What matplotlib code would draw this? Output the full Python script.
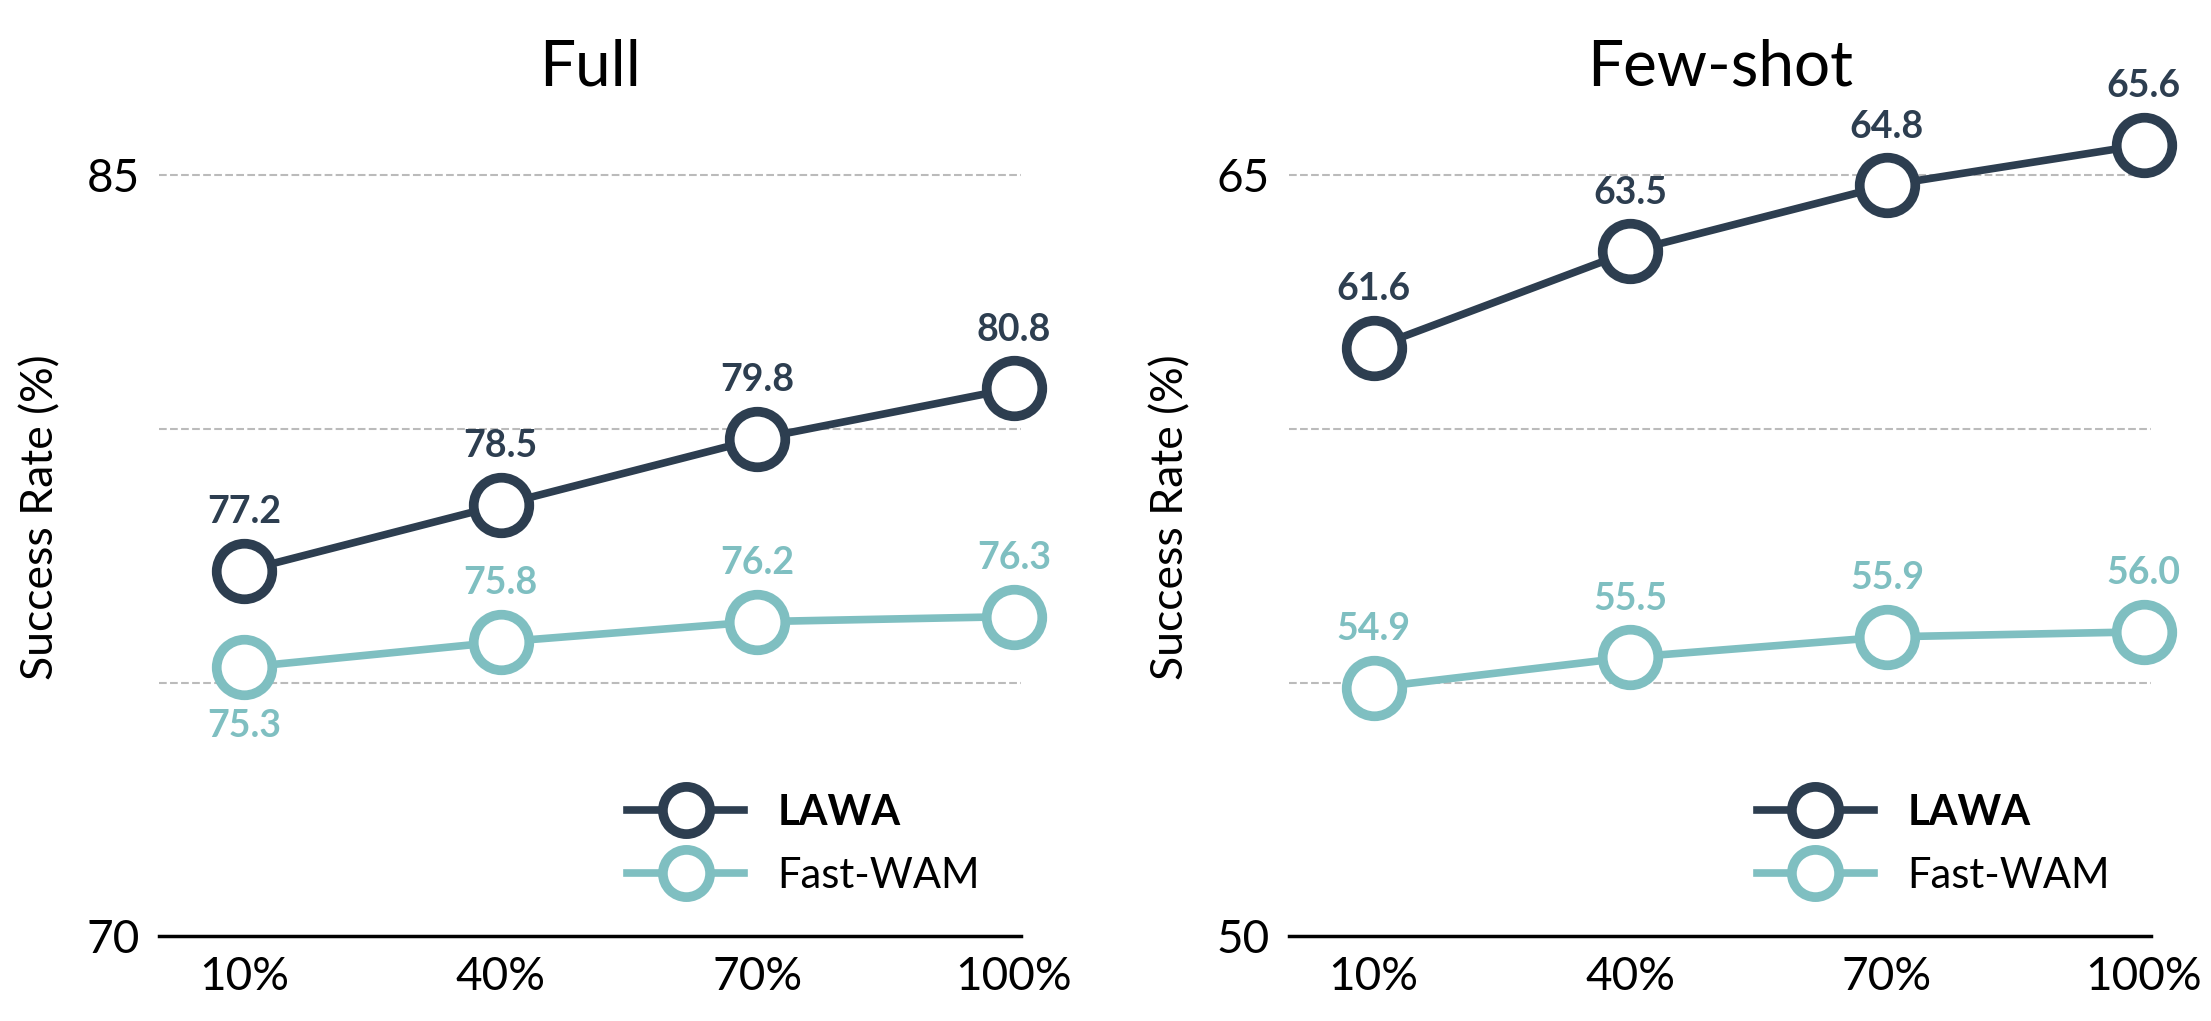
import matplotlib.pyplot as plt

plt.rcParams['font.family'] = ['Lato', 'DejaVu Sans']

x_labels = ['10%', '40%', '70%', '100%']
full_lawa = [77.2, 78.5, 79.8, 80.8]
full_fast = [75.3, 75.8, 76.2, 76.3]
few_lawa = [61.6, 63.5, 64.8, 65.6]
few_fast = [54.9, 55.5, 55.9, 56.0]

dark = '#2d3e50'
teal = '#7fbfc1'

fig = plt.figure(figsize=(22.11, 10.21), dpi=100)
axes = [fig.add_axes([0.072, 0.083, 0.39, 0.82]),
        fig.add_axes([0.583, 0.083, 0.39, 0.82])]

panels = [('Full', full_lawa, full_fast, 70, [75, 80, 85], [-1, 1, 1, 1]),
          ('Few-shot', few_lawa, few_fast, 50, [55, 60, 65], [1, 1, 1, 1])]

for ax, (title, lawa, fast, lo, grid, fdir) in zip(axes, panels):
    xs = range(len(x_labels))
    for g in grid:
        ax.axhline(g, color='#bbbbbb', ls='--', lw=1.5, zorder=0)
    ax.plot(xs, lawa, color=dark, lw=5.5, marker='o', ms=40, mfc='white',
            mec=dark, mew=7, label='LAWA', zorder=3, clip_on=False)
    ax.plot(xs, fast, color=teal, lw=5.5, marker='o', ms=40, mfc='white',
            mec=teal, mew=7, label='Fast-WAM', zorder=3, clip_on=False)
    for i in xs:
        ax.annotate(f'{lawa[i]:.1f}', (i, lawa[i]), xytext=(0, 30),
                    textcoords='offset points', ha='center', va='bottom',
                    fontsize=27, fontweight='bold', color=dark)
        off = 30 if fdir[i] > 0 else -30
        ax.annotate(f'{fast[i]:.1f}', (i, fast[i]), xytext=(0, off),
                    textcoords='offset points', ha='center',
                    va='bottom' if off > 0 else 'top',
                    fontsize=27, fontweight='bold', color=teal)
    ax.set_xlim(-0.33, 3.03)
    ax.set_ylim(lo, lo + 16.5)
    ax.set_yticks([lo, lo + 15])
    ax.set_xticks(list(xs))
    ax.set_xticklabels(x_labels)
    ax.tick_params(labelsize=33, length=0, pad=14)
    for s in ['top', 'right', 'left']:
        ax.spines[s].set_visible(False)
    ax.spines['bottom'].set_linewidth(2.5)
    ax.set_title(title, fontsize=46, pad=10)
    ax.set_ylabel('Success Rate (%)', fontsize=32, labelpad=18)
    leg = ax.legend(loc='lower right', frameon=False, fontsize=30,
                    markerscale=0.85, handlelength=2.8, borderaxespad=0.6,
                    labelspacing=0.6)
    leg.get_texts()[0].set_fontweight('bold')

fig.savefig('out.png', dpi=100)
